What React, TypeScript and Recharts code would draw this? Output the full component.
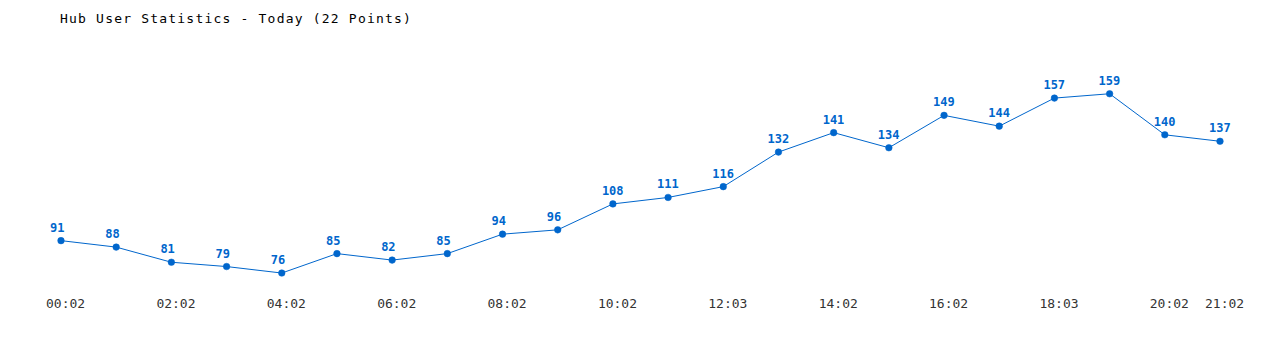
import { LineChart, Line, XAxis, YAxis } from "recharts";

// hourly snapshots, only every other label is printed on the axis
const times = [
  "00:02", "01:02", "02:02", "03:02", "04:02", "05:02", "06:02", "07:02",
  "08:02", "09:02", "10:02", "11:02", "12:03", "13:02", "14:02", "15:02",
  "16:02", "17:02", "18:03", "19:02", "20:02", "21:02",
];

const users = [
  91, 88, 81, 79, 76, 85, 82, 85, 94, 96, 108, 111, 116, 132, 141, 134,
  149, 144, 157, 159, 140, 137,
];

const title = "Hub User Statistics - Today (22 Points)";

const MONO = '"DejaVu Sans Mono", "Liberation Mono", monospace';
const BLUE = "#0066cc";

const data = times.map((t, i) => ({ time: t, users: users[i] }));

// time labels start a bit left of the point, like the old gd charts
function TimeTick(props: any) {
  const { x, y, payload, index } = props;
  if (index % 2 !== 0 && index !== times.length - 1) return null;
  return (
    <text
      x={x - 15}
      y={y + 14}
      fontSize={13}
      fontFamily={MONO}
      fill="#333"
      textAnchor="start"
    >
      {payload.value}
    </text>
  );
}

function ValueLabel(props: any) {
  const { x, y, value } = props;
  return (
    <text
      x={x - 11}
      y={y - 9}
      fontSize={12}
      fontWeight="bold"
      fontFamily={MONO}
      fill={BLUE}
      textAnchor="start"
    >
      {value}
    </text>
  );
}

export default function App() {
  return (
    <div style={{ position: "relative", width: 1264, height: 334 }}>
      <div
        style={{
          position: "absolute",
          left: 52,
          top: 4,
          fontFamily: MONO,
          fontSize: 13,
          lineHeight: "13px",
          letterSpacing: 1.2,
          color: "#000",
        }}
      >
        {title}
      </div>
      <LineChart
        width={1264}
        height={334}
        data={data}
        margin={{ top: 62, right: 52, left: 53, bottom: 26 }}
      >
        <XAxis
          dataKey="time"
          axisLine={false}
          tickLine={false}
          interval={0}
          tick={<TimeTick />}
        />
        <YAxis hide domain={[70, 170]} />
        <Line
          type="linear"
          dataKey="users"
          stroke={BLUE}
          strokeWidth={1}
          dot={{ r: 3.3, fill: BLUE, stroke: BLUE, strokeWidth: 0.5 }}
          label={<ValueLabel />}
          isAnimationActive={false}
        />
      </LineChart>
    </div>
  );
}
